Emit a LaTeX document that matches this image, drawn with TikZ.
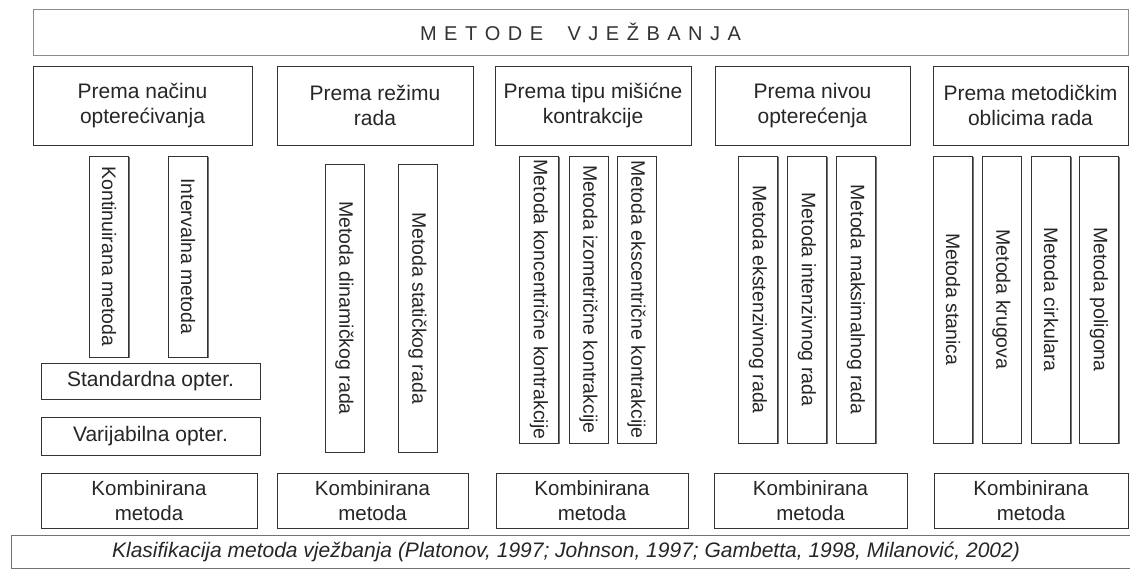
\documentclass[tikz,border=0pt]{standalone}
\usepackage{fontspec}
\setmainfont{Liberation Sans}
\usepackage{graphicx}
\usetikzlibrary{shadows}

\begin{document}
\begin{tikzpicture}[x=1pt, y=-1pt,
	box/.style={draw=black!80, fill=white, line width=0.6pt, inner sep=0pt, align=center, text=black!85, font=\fontsize{21}{24.5}\selectfont, drop shadow={shadow xshift=1.3pt, shadow yshift=-1.3pt, fill=black!55, opacity=1}},
	tall/.style={box, minimum width=39pt, font=\fontsize{19.5}{22}\selectfont},
	komb/.style={box, minimum height=55pt, font=\fontsize{20.5}{25}\selectfont, drop shadow={shadow xshift=0.9pt, shadow yshift=-0.9pt, fill=black!45, opacity=1}}]
	\useasboundingbox (0,0) rectangle (1130,570);
	\node[draw=black!45, line width=0.6pt, minimum width=1095pt, minimum height=46pt, text=black!80, font=\fontsize{20}{22}\selectfont] (naslov) at (580.5,32) {\spaceskip=7.5pt M E T O D E\hspace{17pt} V J E Ž B A N J A};
	\node[box, minimum width=219pt, minimum height=79pt] (nacin) at (142.5,105.5) {Prema načinu\\opterećivanja};
	\node[box, minimum width=196pt, minimum height=79pt] (rezim) at (375,105.5) {Prema režimu\\rada};
	\node[box, minimum width=196pt, minimum height=79pt] (tip) at (593,105.5) {Prema tipu mišićne\\kontrakcije};
	\node[box, minimum width=195pt, minimum height=79pt] (nivo) at (812.5,105.5) {Prema nivou\\opterećenja};
	\node[box, minimum width=195pt, minimum height=79pt] (oblik) at (1030.5,105.5) {Prema metodičkim\\oblicima rada};
	\node[tall, minimum height=201pt] (kont) at (109,256.5) {\rotatebox{-90}{Kontinuirana metoda}};
	\node[tall, minimum height=201pt] (inter) at (188,256.5) {\rotatebox{-90}{Intervalna metoda}};
	\node[box, minimum width=219pt, minimum height=36pt] (stand) at (150.5,381) {Standardna opter.};
	\node[box, minimum width=219pt, minimum height=38pt] (varij) at (150.5,436) {Varijabilna opter.};
	\node[tall, minimum height=288pt] (dinam) at (344.5,308) {\rotatebox{-90}{Metoda dinamičkog rada}};
	\node[tall, minimum height=288pt] (stat) at (417.5,308) {\rotatebox{-90}{Metoda statičkog rada}};
	\node[tall, minimum height=287pt] (konc) at (539,299.5) {\rotatebox{-90}{Metoda koncentrične kontrakcije}};
	\node[tall, minimum height=287pt] (izom) at (588.5,299.5) {\rotatebox{-90}{Metoda izometrične kontrakcije}};
	\node[tall, minimum height=287pt] (eksc) at (636.5,299.5) {\rotatebox{-90}{Metoda ekscentrične kontrakcije}};
	\node[tall, minimum height=287pt] (ekst) at (758,299.5) {\rotatebox{-90}{Metoda ekstenzivnog rada}};
	\node[tall, minimum height=287pt] (inten) at (807,299.5) {\rotatebox{-90}{Metoda intenzivnog rada}};
	\node[tall, minimum height=287pt] (maks) at (856,299.5) {\rotatebox{-90}{Metoda maksimalnog rada}};
	\node[tall, minimum height=287pt] (stan) at (953,299.5) {\rotatebox{-90}{Metoda stanica}};
	\node[tall, minimum height=287pt] (krug) at (1001.5,299.5) {\rotatebox{-90}{Metoda krugova}};
	\node[tall, minimum height=287pt] (cirk) at (1051,299.5) {\rotatebox{-90}{Metoda cirkulara}};
	\node[tall, minimum height=287pt] (polig) at (1099,299.5) {\rotatebox{-90}{Metoda poligona}};
	\node[komb, minimum width=216pt] (komb1) at (149,500.5) {Kombinirana\\metoda};
	\node[komb, minimum width=191pt] (komb2) at (372.5,500.5) {Kombinirana\\metoda};
	\node[komb, minimum width=192pt] (komb3) at (592,500.5) {Kombinirana\\metoda};
	\node[komb, minimum width=193pt] (komb4) at (810.5,500.5) {Kombinirana\\metoda};
	\node[komb, minimum width=194pt] (komb5) at (1031,500.5) {Kombinirana\\metoda};
	\node[draw=black!55, line width=0.6pt, minimum width=1123pt, minimum height=33pt, text=black!85, font=\fontsize{21}{24}\itshape] (izvor) at (572.5,551.5) {\hspace{-13pt}Klasifikacija metoda vježbanja (Platonov, 1997; Johnson, 1997; Gambetta, 1998, Milanović, 2002)};
\end{tikzpicture}
\end{document}
